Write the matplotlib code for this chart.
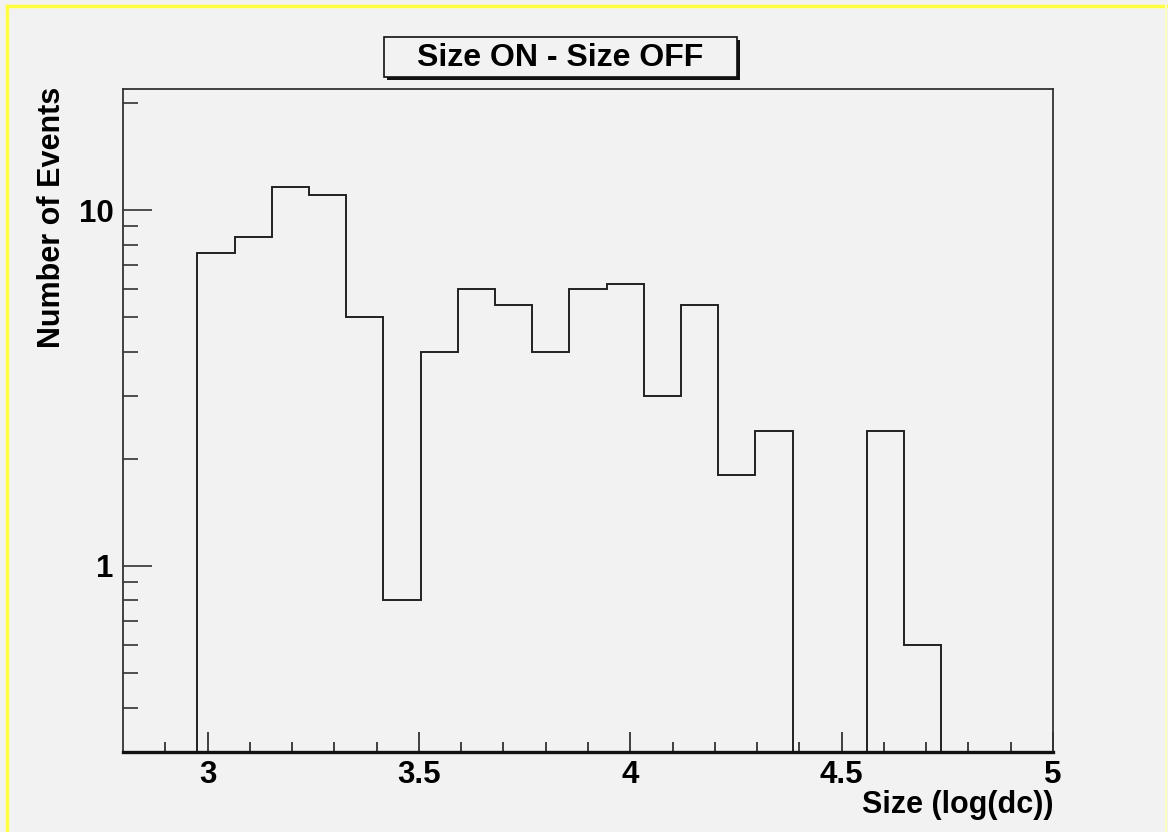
import numpy as np
import matplotlib
matplotlib.use("Agg")
import matplotlib.pyplot as plt
from matplotlib.patches import Rectangle
from matplotlib.ticker import FixedLocator, NullFormatter

# histogram: 25 bins of log(size) between 2.8 and 5
x_lo, x_hi, n_bins = 2.8, 5.0, 25
counts = [0, 0, 7.6, 8.4, 11.6, 11.0, 5.0, 0.8, 4.0, 6.0, 5.4, 4.0, 6.0,
          6.2, 3.0, 5.4, 1.8, 2.4, 0, 0, 2.4, 0.6, 0, 0, 0]
y_lo, y_hi = 0.3, 21.9

title = "Size ON - Size OFF"
xlabel = "Size (log(dc))"
ylabel = "Number of Events"

plt.rcParams['font.family'] = ['Liberation Sans', 'DejaVu Sans']
plt.rcParams['font.weight'] = 'bold'

bg = '#f2f2f2'
W, H = 1168, 832
fig = plt.figure(figsize=(W / 100, H / 100), dpi=100, facecolor=bg)

# yellow canvas border (top, left, right)
fig.add_artist(plt.Line2D([7 / W, 7 / W], [0, 1 - 6 / H], color='#ffff40', lw=2.5))
fig.add_artist(plt.Line2D([7 / W, 1166 / W], [1 - 6 / H, 1 - 6 / H], color='#ffff40', lw=2.5))
fig.add_artist(plt.Line2D([1166 / W, 1166 / W], [0, 1 - 6 / H], color='#fdfdc0', lw=1.5))

ax = fig.add_axes([123 / W, 1 - 752 / H, 930 / W, 663 / H])
ax.set_facecolor(bg)

edges = np.linspace(x_lo, x_hi, n_bins + 1)
vals = np.asarray(counts, dtype=float)
shown = np.where(vals > 0, vals, y_lo)
ax.stairs(shown, edges, baseline=y_lo, color='#222222', lw=1.4)

ax.set_yscale('log')
ax.set_xlim(x_lo, x_hi)
ax.set_ylim(y_lo, y_hi)

for side in ('left', 'top', 'right'):
    ax.spines[side].set_linewidth(1.3)
    ax.spines[side].set_color('#333333')
ax.spines['bottom'].set_linewidth(2.4)
ax.spines['bottom'].set_color('#111111')

ax.xaxis.set_major_locator(FixedLocator([3, 3.5, 4, 4.5, 5]))
ax.xaxis.set_minor_locator(FixedLocator(np.arange(2.9, 5.0, 0.1)))
ax.set_xticklabels(['3', '3.5', '4', '4.5', '5'])
ax.yaxis.set_major_locator(FixedLocator([1, 10]))
ax.yaxis.set_minor_locator(FixedLocator([0.3, 0.4, 0.5, 0.6, 0.7, 0.8, 0.9,
                                         2, 3, 4, 5, 6, 7, 8, 9, 20]))
ax.yaxis.set_minor_formatter(NullFormatter())
ax.set_yticklabels(['1', '10'])

ax.tick_params(axis='x', which='major', direction='in', length=14.4, width=1.2,
               pad=6, labelsize=22.5, color='#222222')
ax.tick_params(axis='x', which='minor', direction='in', length=7.2, width=1.2, color='#222222')
ax.tick_params(axis='y', which='major', direction='in', length=21, width=1.2,
               pad=7, labelsize=22.5, color='#333333')
ax.tick_params(axis='y', which='minor', direction='in', length=10.8, width=1.2, color='#333333')

# axis titles pinned to the far ends, ROOT style
fig.text(1053 / W, 1 - 805 / H, xlabel, ha='right', va='center', fontsize=22, fontweight='bold')
fig.text(52 / W, 1 - 87 / H, ylabel, ha='center', va='top', rotation=90,
         fontsize=22, fontweight='bold')

# title pave with drop shadow
bx0, by0, bx1, by1 = 384, 37, 737, 77
fig.add_artist(Rectangle(((bx0 + 3) / W, 1 - (by1 + 3) / H), (bx1 - bx0) / W, (by1 - by0) / H,
                         transform=fig.transFigure, facecolor='#111111', edgecolor='none'))
fig.add_artist(Rectangle((bx0 / W, 1 - by1 / H), (bx1 - bx0) / W, (by1 - by0) / H,
                         transform=fig.transFigure, facecolor=bg, edgecolor='#111111', lw=1.2))
fig.text((bx0 + bx1) / 2 / W, 1 - 58 / H, title, ha='center', va='center',
         fontsize=23, fontweight='bold')

fig.savefig('out.png', dpi=100, facecolor=bg)
